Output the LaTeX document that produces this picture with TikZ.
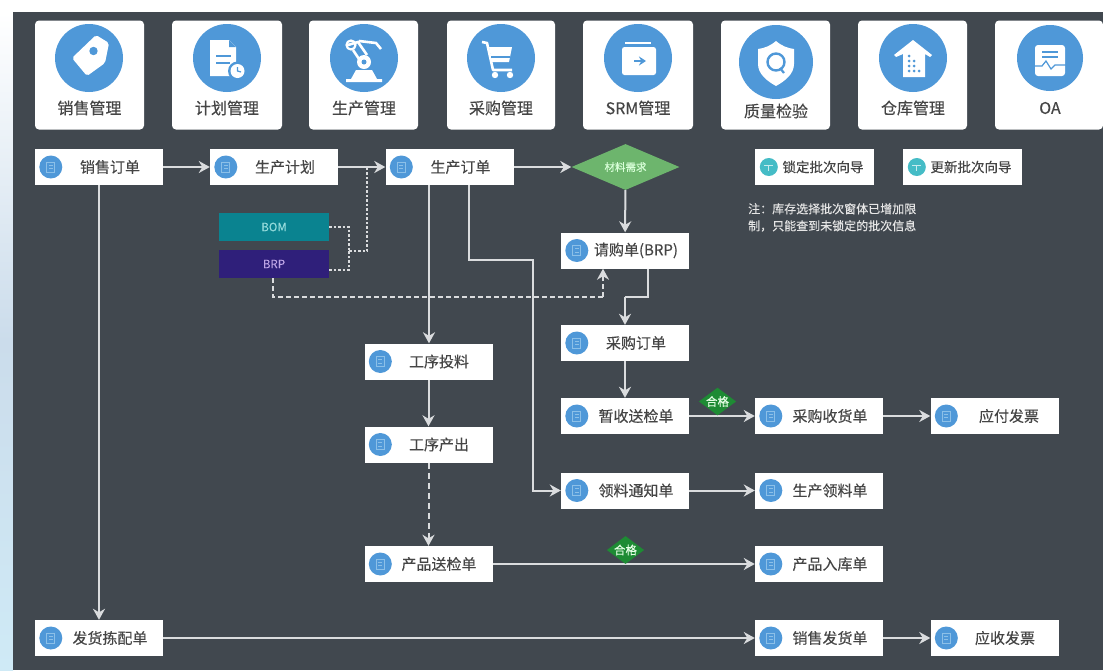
\documentclass[tikz,border=0pt]{standalone}
\usepackage{fontspec}
\setmainfont{Noto Sans CJK SC}[FakeBold=0.25]
\usetikzlibrary{arrows.meta,shapes.geometric,calc}
\definecolor{bgdark}{HTML}{41484F}
\definecolor{iconblue}{HTML}{4F98D8}
\definecolor{innerblue}{HTML}{8CC0E8}
\definecolor{txtgray}{HTML}{454545}
\definecolor{linegray}{HTML}{DADCDE}
\definecolor{wizteal}{HTML}{45BCC6}
\definecolor{stripmid}{HTML}{CBDCEB}
\definecolor{stripend}{HTML}{CFEAF6}
\definecolor{needgreen}{HTML}{6DB56D}
\definecolor{okgreen}{HTML}{1E8B34}
\tikzset{
  x=1pt,y=-1pt,
  card/.style={fill=white,rounded corners=4pt,minimum height=109pt,inner sep=0pt},
  cardlab/.style={font=\fontsize{16}{18}\selectfont,text=txtgray,inner sep=0pt},
  bigcirc/.style={circle,fill=iconblue,minimum size=66pt,inner sep=0pt},
  flowbox/.style={rectangle,fill=white,minimum width=128pt,minimum height=36pt,inner sep=0pt},
  flowlab/.style={font=\fontsize{15}{18}\selectfont,text=txtgray,inner sep=0pt},
  wizbox/.style={rectangle,fill=white,minimum width=119pt,minimum height=36pt,inner sep=0pt},
  wizlab/.style={font=\fontsize{13.5}{16}\selectfont,text=txtgray,inner sep=0pt},
  conn/.style={draw=linegray,line width=2pt,-{Stealth[inset=3.5pt,length=11pt,width=12pt]}},
  plainconn/.style={draw=linegray,line width=2pt},
  dashconn/.style={draw=linegray,line width=2pt,dash pattern=on 5pt off 3pt},
  dotconn/.style={draw=linegray,line width=2pt,dash pattern=on 2.5pt off 2pt},
  okdia/.style={diamond,fill=okgreen,aspect=1.35,inner sep=0pt,font=\fontsize{11.5}{12}\selectfont,text=white!90!green},
  glyph/.style={fill=white,draw=none},
  gline/.style={draw=white,line width=2.6pt},
  bline/.style={draw=iconblue,line width=1.6pt},
}
\newcommand{\ficon}[1]{%
  \fill[iconblue] ($(#1.west)+(16,0)$) circle (11.5);
  \draw[innerblue,line width=0.9pt] ($(#1.west)+(12,-5)$) rectangle ($(#1.west)+(20,5)$);
  \draw[innerblue,line width=0.7pt] ($(#1.west)+(14,-2)$) -- ($(#1.west)+(18,-2)$) ($(#1.west)+(14,1.5)$) -- ($(#1.west)+(18,1.5)$);
}
\newcommand{\wicon}[1]{%
  \fill[wizteal] ($(#1.west)+(14,0)$) circle (9);
  \draw[white!70!wizteal,line width=0.9pt] ($(#1.west)+(9.5,-1.5)$) -- ($(#1.west)+(18.5,-1.5)$) ($(#1.west)+(14,-1.5)$) -- ($(#1.west)+(14,4)$);
}
\begin{document}
\begin{tikzpicture}
\useasboundingbox (0,0) rectangle (1103,670);
\fill[white] (0,0) rectangle (1103,670);
\shade[top color=white,bottom color=stripend,middle color=stripmid] (0,12) rectangle (13,670);
\fill[bgdark] (13,12) rectangle (1103,670);

% cards
\node[card,minimum width=109pt] (card1) at (89.5,75) {};
\node[card,minimum width=110pt] (card2) at (227,75) {};
\node[card,minimum width=109pt] (card3) at (363.5,75) {};
\node[card,minimum width=108pt] (card4) at (501,75) {};
\node[card,minimum width=110pt] (card5) at (638,75) {};
\node[card,minimum width=109pt] (card6) at (775.5,75) {};
\node[card,minimum width=109pt] (card7) at (912.5,75) {};
\node[card,minimum width=108pt] (card8) at (1049,75) {};

\node[bigcirc,minimum size=68pt] (circ1) at (89,58) {};
\node[bigcirc,minimum size=68pt] (circ2) at (227,58) {};
\node[bigcirc,minimum size=68pt] (circ3) at (364,58) {};
\node[bigcirc,minimum size=68pt] (circ4) at (501,58) {};
\node[bigcirc,minimum size=68pt] (circ5) at (638,58) {};
\node[bigcirc,minimum size=74pt] (circ6) at (776,62) {};
\node[bigcirc,minimum size=68pt] (circ7) at (913,58) {};
\node[bigcirc] (circ8) at (1050,58) {};

\node[cardlab] (lab1) at (89.5,108) {销售管理};
\node[cardlab] (lab2) at (227,108) {计划管理};
\node[cardlab] (lab3) at (364,108) {生产管理};
\node[cardlab] (lab4) at (501,108) {采购管理};
\node[cardlab] (lab5) at (638,108) {SRM管理};
\node[cardlab] (lab6) at (776,111) {质量检验};
\node[cardlab] (lab7) at (913,108) {仓库管理};
\node[cardlab] (lab8) at (1050,108) {OA};

% tag
\begin{scope}[shift={(89,58)}]
  \fill[glyph,rounded corners=2pt] (7,-23) -- (20,-15) -- (16,5) -- (-2,18) -- (-17,0) -- cycle;
  \fill[iconblue] (4.5,-7) circle (4.2);
\end{scope}
% document with clock
\begin{scope}[shift={(227,58)}]
  \fill[glyph] (-17,-18) -- (2,-18) -- (9,-11) -- (9,18) -- (-17,18) -- cycle;
  \fill[iconblue] (2,-18) -- (2,-11) -- (9,-11) -- cycle;
  \draw[iconblue,line width=2pt] (-11,-2) -- (4,-2) (-11,5) -- (3,5);
  \fill[iconblue] (10.5,13) circle (9.5);
  \fill[white] (10.5,13) circle (7);
  \draw[iconblue,line width=1.2pt] (10.5,9) -- (10.5,13) -- (14,14);
\end{scope}
% robot arm
\begin{scope}[shift={(364,58)}]
  \fill[glyph] (-18,21) -- (-13,21) -- (-8,12) -- (8,12) -- (13,21) -- (18,21) -- (18,24) -- (-18,24) -- cycle;
  \fill[glyph] (0,4) circle (7);
  \fill[iconblue] (0,4) circle (2.5);
  \draw[gline] (-16,-13) -- (-6,-16) -- (3,-3);
  \draw[gline] (-5,-17) -- (12,-15) -- (17,-9);
  \draw[white,line width=2.2pt] (-13,-13) circle (4.5);
  \draw[gline] (-11,-8) -- (-5,1);
\end{scope}
% cart
\begin{scope}[shift={(501,58)}]
  \draw[gline,line join=round] (-19,-16) -- (-14,-15) -- (-8,12) -- (11,12);
  \fill[glyph] (-12,-11) -- (11,-11) -- (8,4) -- (-9,4) -- cycle;
  \draw[iconblue,line width=1.3pt] (-10,-1) -- (9,-1);
  \fill[glyph] (-6,17) circle (3.2) (9,17) circle (3.2);
\end{scope}
% box
\begin{scope}[shift={(638,58)}]
  \draw[white,line width=1.4pt] (-13,-15) -- (13,-15);
  \fill[glyph,rounded corners=2.5pt] (-16,-11) rectangle (18,17);
  \draw[iconblue,line width=2.4pt,-{Stealth[length=7pt,width=9pt]}] (-4,3) -- (8,3);
\end{scope}
% shield
\begin{scope}[shift={(776,62)}]
  \fill[glyph] (0,-21) .. controls (6,-16) and (11,-14) .. (18,-13) -- (18,2) .. controls (18,12) and (9,19) .. (0,24) .. controls (-9,19) and (-18,12) .. (-18,2) -- (-18,-13) .. controls (-11,-14) and (-6,-16) .. (0,-21) -- cycle;
  \draw[iconblue,line width=2.4pt] (0,0) circle (8.5);
  \draw[iconblue,line width=2.2pt] (4,6) -- (8,11);
\end{scope}
% house
\begin{scope}[shift={(913,58)}]
  \fill[glyph] (-19,-3) -- (0,-18) -- (19,-3) -- (17,-1) -- (12,-4) -- (12,19) -- (-10,19) -- (-10,-4) -- (-17,-1) -- cycle;
  \fill[iconblue] (-4,-2) circle (1.5) (-4,3) circle (1.5) (-4,8) circle (1.5) (-4,13) circle (1.5) (1,8) circle (1.5) (1,13) circle (1.5) (6,13) circle (1.5) (1,3) circle (1.5);
\end{scope}
% OA document
\begin{scope}[shift={(1050,58)}]
  \fill[glyph,rounded corners=3pt] (-15,-13) rectangle (15,18);
  \draw[iconblue,line width=1.8pt] (-8,-6) -- (8,-6) (-8,-1) -- (8,-1);
  \draw[iconblue,line width=1.2pt] (-17,8) -- (-8,8) -- (-4,3) -- (1,11) -- (5,7) -- (17,7);
\end{scope}

% flow nodes
\node[flowbox] (xsdd) at (99,167) {};
\node[flowbox] (scjh) at (274,167) {};
\node[flowbox] (scdd) at (449.5,167) {};
\node[diamond,fill=needgreen,minimum width=108pt,minimum height=46pt,inner sep=0pt,aspect=2.3,font=\fontsize{10.5}{12}\selectfont,text=white!85!green] (clxq) at (625.5,167) {材料需求};
\node[rectangle,fill={rgb,255:red,10;green,131;blue,144},minimum width=110pt,minimum height=28pt,inner sep=0pt,font=\fontsize{11.5}{12}\selectfont,text={rgb,255:red,150;green,220;blue,220}] (bom) at (274,227) {BOM};
\node[rectangle,fill={rgb,255:red,47;green,31;blue,122},minimum width=110pt,minimum height=28pt,inner sep=0pt,font=\fontsize{11.5}{12}\selectfont,text={rgb,255:red,190;green,165;blue,230}] (brp) at (274,264) {BRP};
\node[flowbox] (qgd) at (625,250.5) {};
\node[flowbox] (cgdd) at (625,343) {};
\node[flowbox] (zssj) at (625,416) {};
\node[flowbox] (cgsh) at (819,416) {};
\node[flowbox] (yffp) at (994.5,416) {};
\node[flowbox] (lltz) at (625,490.5) {};
\node[flowbox] (scll) at (819,490.5) {};
\node[flowbox] (gxtl) at (428.5,361.5) {};
\node[flowbox] (gxcc) at (428.5,444.5) {};
\node[flowbox] (cpsj) at (428.5,564) {};
\node[flowbox] (cprk) at (819,564) {};
\node[flowbox] (fhjp) at (99,638) {};
\node[flowbox] (xsfh) at (819,638) {};
\node[flowbox] (ysfp) at (994.5,638) {};
\node[wizbox] (sdpc) at (814.5,167) {};
\node[wizbox] (gxpc) at (962.5,167) {};

\ficon{xsdd}\ficon{scjh}\ficon{scdd}\ficon{qgd}\ficon{cgdd}\ficon{zssj}\ficon{cgsh}\ficon{yffp}
\ficon{lltz}\ficon{scll}\ficon{gxtl}\ficon{gxcc}\ficon{cpsj}\ficon{cprk}\ficon{fhjp}\ficon{xsfh}\ficon{ysfp}
\wicon{sdpc}\wicon{gxpc}

\node[flowlab] (t1) at (110,167) {销售订单};
\node[flowlab] (t2) at (285,167) {生产计划};
\node[flowlab] (t3) at (460.5,167) {生产订单};
\node[flowlab] (t4) at (636,250.5) {请购单(BRP)};
\node[flowlab] (t5) at (636,343) {采购订单};
\node[flowlab] (t6) at (636,416) {暂收送检单};
\node[flowlab] (t7) at (830,416) {采购收货单};
\node[flowlab] (t8) at (1009,416) {应付发票};
\node[flowlab] (t9) at (636,490.5) {领料通知单};
\node[flowlab] (t10) at (830,490.5) {生产领料单};
\node[flowlab] (t11) at (439,361.5) {工序投料};
\node[flowlab] (t12) at (439,444.5) {工序产出};
\node[flowlab] (t13) at (439,564) {产品送检单};
\node[flowlab] (t14) at (830,564) {产品入库单};
\node[flowlab] (t15) at (110,638) {发货拣配单};
\node[flowlab] (t16) at (830,638) {销售发货单};
\node[flowlab] (t17) at (1005,638) {应收发票};
\node[wizlab] (t18) at (823,167) {锁定批次向导};
\node[wizlab] (t19) at (971,167) {更新批次向导};

\node[anchor=north west,align=left,inner sep=0pt,text=white!80!gray,font=\fontsize{12}{17}\selectfont] (note) at (748,203) {注：库存选择批次窗体已增加限\\制，只能查到未锁定的批次信息};

% bend points
\coordinate (xA) at (429,260);
\coordinate (xB) at (469,260);
\coordinate (xC) at (533,260);
\coordinate (xD) at (648,297);
\coordinate (xE) at (625,297);
\coordinate (xF) at (349,251);
\coordinate (xG) at (367,251);
\coordinate (xH) at (273,297);
\coordinate (xI) at (603,297);

% connectors
\draw[conn] (xsdd) -- (scjh);
\draw[conn] (scjh) -- (scdd);
\draw[conn] (scdd) -- (clxq);
\draw[conn] (clxq) -- (qgd);
\draw[plainconn] (qgd.south -| xD) -- (xD) -- (xE);
\draw[conn] (xE) -- (cgdd);
\draw[conn] (cgdd) -- (zssj);
\draw[conn] (zssj) -- (cgsh);
\draw[conn] (cgsh) -- (yffp);
\draw[conn] (lltz) -- (scll);
\draw[conn] (cpsj) -- (cprk);
\draw[conn] (fhjp) -- (xsfh);
\draw[conn] (xsfh) -- (ysfp);
\draw[conn] (xsdd) -- (fhjp);
\draw[conn] (scdd.south -| xA) -- (gxtl.north -| xA);
\draw[conn] (gxtl) -- (gxcc);
\draw[conn,dash pattern=on 6pt off 4pt] (gxcc) -- (cpsj);
\draw[conn] (scdd.south -| xB) -- (xB) -- (xC) -- (lltz.west -| xC) -- (lltz);
\draw[dotconn] (bom.east) -| (xF);
\draw[dotconn] (brp.east) ++(0,6) -| (xF);
\draw[dotconn] (xF) -- (xG) -- (scjh.east -| xG);
\draw[dashconn] (brp.south -| xH) -- (xH) -- (xI);
\draw[conn,dash pattern=on 5pt off 3pt] (xI) -- (qgd.south -| xI);

\node[okdia,minimum width=37pt,minimum height=27pt] (ok1) at (717.5,401.5) {合格};
\node[okdia,minimum width=37pt,minimum height=28pt] (ok2) at (625.5,550) {合格};
\end{tikzpicture}
\end{document}
